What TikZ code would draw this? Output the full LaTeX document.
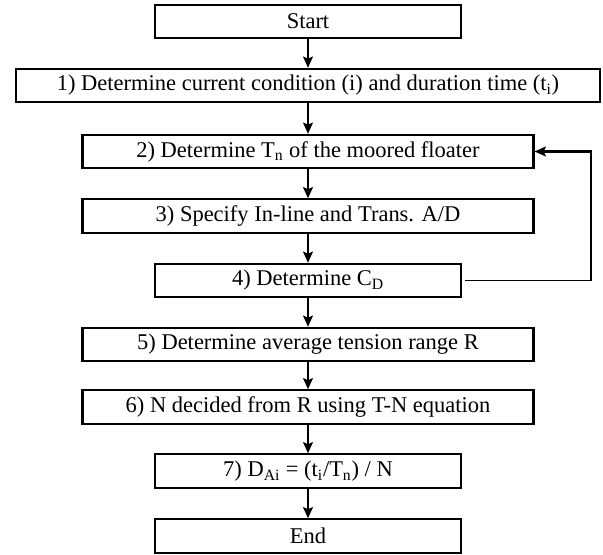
\documentclass[tikz,border=0pt]{standalone}
\usepackage{fontspec}
\setmainfont{Liberation Serif}
\usepackage{tikz}
\usetikzlibrary{calc,arrows.meta,positioning}
\tikzset{
    step box/.style={
        draw,line width=1.5pt,
        fill=white,
        minimum height=.83cm,
        inner sep=1pt,
        font=\fontsize{16}{19}\selectfont
    },
    wide box/.style={step box,minimum width=11.275cm},
    short box/.style={step box,minimum width=7.65cm},
    >={Stealth[length=8pt,width=7pt,inset=1.5pt]}
}
\begin{document}
\begin{tikzpicture}
\useasboundingbox (-7.7,0) rectangle (7.375,-13.85);
\node[short box] (start) at (0,-.5375) {Start};
\node[step box,minimum width=14.6cm] (s1) at (0,-2.1375) {1) Determine current condition (i) and duration time (t\textsubscript{i})};
\node[wide box] (s2) at (0,-3.7875) {2) Determine T\textsubscript{n} of the moored floater};
\node[wide box] (s3) at (0,-5.4) {3) Specify In-line and Trans. A/D};
\node[short box] (s4) at (0,-7.0125) {4) Determine C\textsubscript{D}};
\node[wide box] (s5) at (0,-8.6125) {5) Determine average tension range R};
\node[wide box] (s6) at (0,-10.175) {6) N decided from R using T-N equation};
\node[short box] (s7) at (0,-11.775) {7) D\textsubscript{Ai} = (t\textsubscript{i}/T\textsubscript{n}) / N};
\node[short box] (end) at (0,-13.4) {End};
\foreach \a/\b in {start/s1,s1/s2,s2/s3,s3/s4,s4/s5,s5/s6,s6/s7,s7/end}
    \draw[->,line width=1.5pt] (\a) -- (\b);
% loop back from C_D
\coordinate (loop) at (7.075,-7.0125);
\draw[line width=.9pt] ([xshift=2pt]s4.east) -- (loop);
\draw[->,line width=1.5pt] (loop) |- (s2.east);
\end{tikzpicture}
\end{document}
